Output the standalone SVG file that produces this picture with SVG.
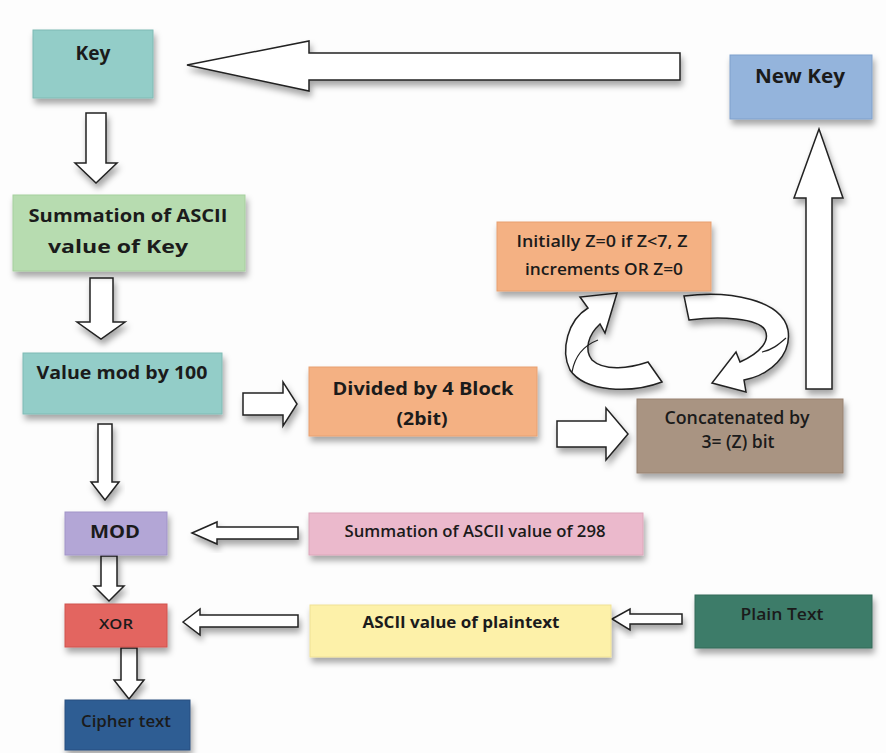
<svg xmlns="http://www.w3.org/2000/svg" width="886" height="753" viewBox="0 0 886 753">
<defs>
<filter id="sh" x="-20%" y="-20%" width="140%" height="160%">
<feDropShadow dx="2" dy="5" stdDeviation="3" flood-color="#000" flood-opacity="0.35"/>
</filter>
<style>
.box{filter:url(#sh);stroke-width:1}
.arr{fill:#fff;stroke:#222;stroke-width:1.5;stroke-linejoin:miter;filter:url(#sh)}
.tw{fill:none;stroke:#222;stroke-width:1.2}
.t{font-family:"Open Sans",Lato,"Liberation Sans",sans-serif;font-weight:700;fill:#1b1b1b;text-anchor:middle}
.m{font-weight:600}
</style>
</defs>
<rect width="886" height="753" fill="#fdfdfd"/>

<g id="connectors">
<path class="arr" d="M187,65 L309,41 L309,53 L680,53 L680,80 L309,80 L309,91 Z"/>
<path class="arr" d="M86,113 L106,113 L106,163 L117,163 L96,183 L75,163 L86,163 Z"/>
<path class="arr" d="M90,278 L113,278 L113,322 L125,322 L101,339 L77,322 L90,322 Z"/>
<path class="arr" d="M98,424 L112,424 L112,482 L119,482 L105,500 L91,482 L98,482 Z"/>
<path class="arr" d="M101,556 L117,556 L117,586 L124,586 L109,601 L94,586 L101,586 Z"/>
<path class="arr" d="M121,648 L137,648 L137,680 L144,680 L129,699 L114,680 L121,680 Z"/>
<path class="arr" d="M243,393 L283,393 L283,382 L297,404 L283,426 L283,415 L243,415 Z"/>
<path class="arr" d="M557,421 L606,421 L606,408 L628,434 L606,460 L606,447 L557,447 Z"/>
<path class="arr" d="M806,389 L806,198 L794,198 L819,129 L843,198 L832,198 L832,389 Z"/>
<path class="arr" d="M192,533 L217,522 L217,527 L298,527 L298,539 L217,539 L217,544 Z"/>
<path class="arr" d="M183,622 L200,609 L200,615 L298,615 L298,627 L200,627 L200,635 Z"/>
<path class="arr" d="M612,619 L630,609 L630,614 L682,614 L682,624 L630,624 L630,630 Z"/>
<path class="arr" d="M662,382 C630,394 585,392 570,370 C560,350 568,320 588,308 L580,297 L617,293 L605,333 L600,324 C588,335 584,350 592,360 C605,372 630,368 648,362 Z"/>
<path class="tw" d="M572,372 C575,355 585,345 598,340"/>
<path class="arr" d="M684,296 C730,290 782,300 788,330 C792,355 770,375 744,380 L746,392 L712,383 L736,352 L740,362 C762,352 770,340 765,330 C758,318 720,316 689,320 Z"/>
<path class="tw" d="M786,338 C778,345 772,350 762,352"/>
</g>

<g id="key"><rect class="box" x="33" y="30" width="120" height="68" fill="#93cdc8" stroke="#7fbab4"/>
<text class="t" x="93" y="60" font-size="20" textLength="35" lengthAdjust="spacingAndGlyphs">Key</text></g>

<g id="newkey"><rect class="box" x="730" y="55" width="142" height="64" fill="#94b4dc" stroke="#7fa0cc"/>
<text class="t" x="800" y="83" font-size="19" textLength="90" lengthAdjust="spacingAndGlyphs">New Key</text></g>

<g id="summation"><rect class="box" x="13" y="195" width="232" height="76" fill="#b7dcb0" stroke="#a6cf9e"/>
<text class="t" x="128" y="222" font-size="17.5" textLength="199" lengthAdjust="spacingAndGlyphs">Summation of ASCII</text>
<text class="t" x="118" y="253" font-size="17.5" textLength="140" lengthAdjust="spacingAndGlyphs">value of Key</text></g>

<g id="valuemod"><rect class="box" x="23" y="353" width="199" height="61" fill="#93cdc8" stroke="#7fbab4"/>
<text class="t" x="122" y="379" font-size="17.5" textLength="171" lengthAdjust="spacingAndGlyphs">Value mod by 100</text></g>

<g id="divided"><rect class="box" x="309" y="367" width="228" height="69" fill="#f4b183" stroke="#e8a070"/>
<text class="t" x="423" y="395" font-size="18" textLength="181" lengthAdjust="spacingAndGlyphs">Divided by 4 Block</text>
<text class="t" x="422" y="425" font-size="18" textLength="51" lengthAdjust="spacingAndGlyphs">(2bit)</text></g>

<g id="initially"><rect class="box" x="497" y="222" width="214" height="69" fill="#f4b183" stroke="#e8a070"/>
<text class="t m" x="602" y="247" font-size="17" textLength="171" lengthAdjust="spacingAndGlyphs">Initially Z=0 if Z&lt;7, Z</text>
<text class="t m" x="604" y="275" font-size="17" textLength="158" lengthAdjust="spacingAndGlyphs">increments OR Z=0</text></g>

<g id="concatenated"><rect class="box" x="637" y="399" width="206" height="74" fill="#a99482" stroke="#978270"/>
<text class="t m" x="737" y="424" font-size="17.5" textLength="145" lengthAdjust="spacingAndGlyphs">Concatenated by</text>
<text class="t m" x="738" y="448" font-size="17.5" textLength="73" lengthAdjust="spacingAndGlyphs">3= (Z) bit</text></g>

<g id="mod"><rect class="box" x="65" y="512" width="102" height="43" fill="#b3a6d6" stroke="#a194c8"/>
<text class="t" x="115" y="538" font-size="18" textLength="50" lengthAdjust="spacingAndGlyphs">MOD</text></g>

<g id="xor"><rect class="box" x="65" y="604" width="102" height="43" fill="#e36560" stroke="#d0534e"/>
<text class="t m" x="116" y="629" font-size="15" textLength="34" lengthAdjust="spacingAndGlyphs">XOR</text></g>

<g id="cipher"><rect class="box" x="65" y="700" width="125" height="50" fill="#2f5d93" stroke="#284f80"/>
<text class="t m" x="126" y="727" font-size="16" textLength="90" lengthAdjust="spacingAndGlyphs">Cipher text</text></g>

<g id="sum298"><rect class="box" x="309" y="513" width="334" height="42" fill="#ebb9cc" stroke="#dca6ba"/>
<text class="t m" x="475" y="537" font-size="16" textLength="261" lengthAdjust="spacingAndGlyphs">Summation of ASCII value of 298</text></g>

<g id="asciiplain"><rect class="box" x="310" y="605" width="301" height="52" fill="#fdf1a9" stroke="#efe196"/>
<text class="t" x="461" y="628" font-size="16.5" textLength="197" lengthAdjust="spacingAndGlyphs">ASCII value of plaintext</text></g>

<g id="plaintext"><rect class="box" x="695" y="595" width="177" height="53" fill="#3d7c69" stroke="#336b5a"/>
<text class="t m" x="782" y="620" font-size="17" textLength="83" lengthAdjust="spacingAndGlyphs">Plain Text</text></g>
</svg>
